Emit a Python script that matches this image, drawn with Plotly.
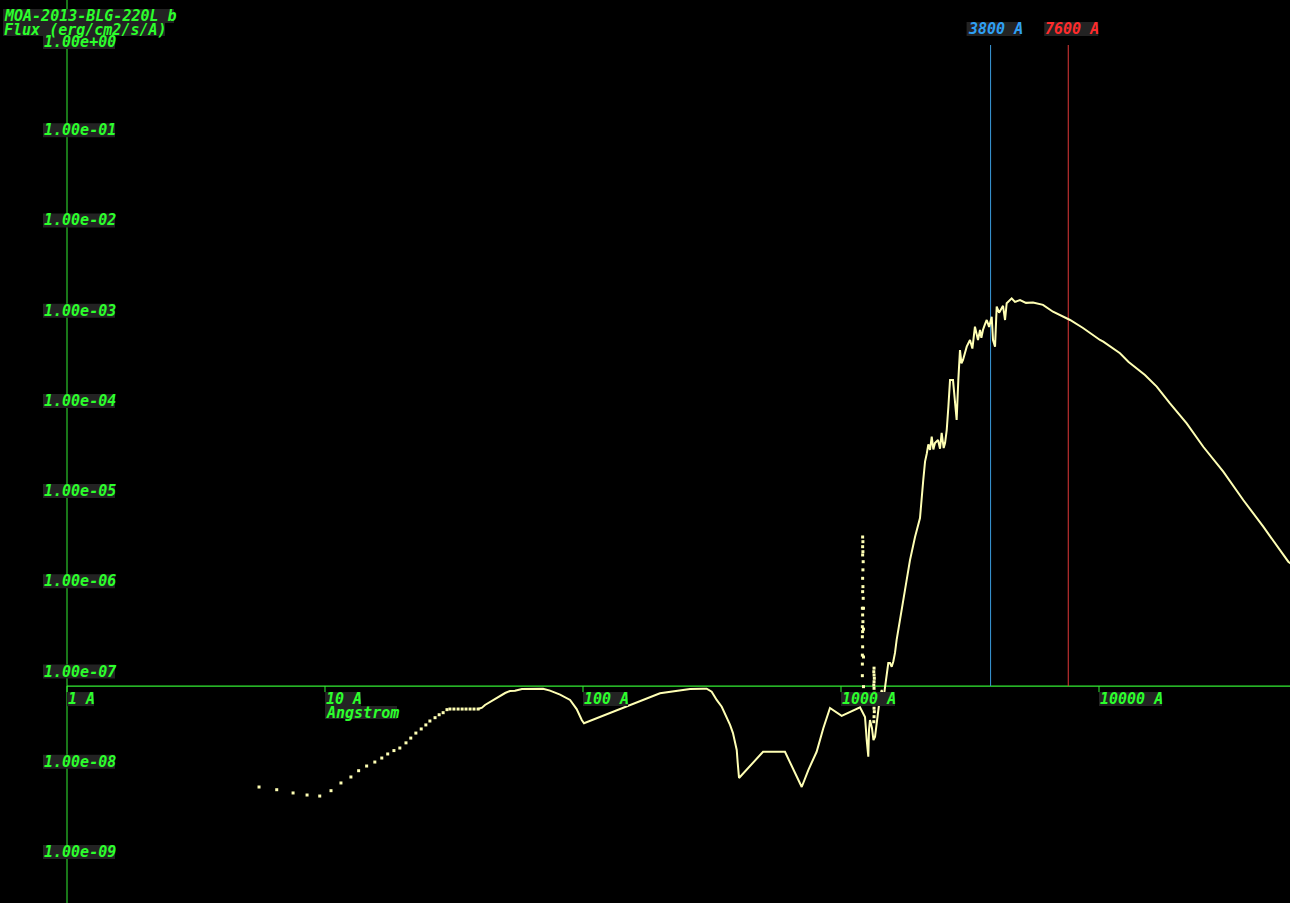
import math
import plotly.graph_objects as go

# ---------------- data ----------------
TITLE = "MOA-2013-BLG-220L b"
Y_TITLE = "Flux (erg/cm2/s/A)"
X_UNIT = "Angstrom"

X_TICKS = [1, 10, 100, 1000, 10000]
X_TICK_LABELS = ["1 A", "10 A", "100 A", "1000 A", "10000 A"]
Y_TICKS = [1e0, 1e-1, 1e-2, 1e-3, 1e-4, 1e-5, 1e-6, 1e-7, 1e-8, 1e-9]
Y_TICK_LABELS = ["1.00e+00", "1.00e-01", "1.00e-02", "1.00e-03", "1.00e-04",
                 "1.00e-05", "1.00e-06", "1.00e-07", "1.00e-08", "1.00e-09"]

BAND_WAVES = [3800, 7600]
BAND_LABELS = ["3800 A", "7600 A"]

AXIS_FLUX = 6.9e-8   # where the wavelength axis crosses

# sparse X-ray / EUV model points (drawn as dots)
WAVE_DOTS = [5.55, 6.50, 7.52, 8.52, 9.54, 10.55, 11.53, 12.6, 13.5, 14.5, 15.6,
             16.6, 17.5, 18.5, 19.5, 20.6, 21.5, 22.5, 23.6, 24.6, 25.5, 26.7,
             27.7, 28.7, 29.7, 30.5, 31.6, 32.8, 34.0, 35.2, 36.5, 37.8, 39.2]
FLUX_DOTS = [5.25e-9, 4.90e-9, 4.51e-9, 4.28e-9, 4.17e-9, 4.78e-9, 5.82e-9, 6.78e-9,
             7.96e-9, 8.97e-9, 9.93e-9, 1.10e-8, 1.22e-8, 1.33e-8, 1.42e-8, 1.62e-8,
             1.83e-8, 2.08e-8, 2.31e-8, 2.56e-8, 2.83e-8, 3.08e-8, 3.32e-8, 3.50e-8,
             3.78e-8, 3.84e-8, 3.84e-8, 3.84e-8, 3.84e-8, 3.84e-8, 3.84e-8, 3.84e-8,
             3.84e-8]

# continuous spectrum
WAVE_LINE = [39.2, 40.6, 41.7, 43.6, 45.6, 47.7, 49.9, 52.1, 54.5, 58.0, 62.3, 70.0,
             74.5, 77.9, 81.5, 89.1, 94.5, 98.9, 100.9, 198.8, 260, 291.8, 301.5,
             315.3, 329.7, 344.9, 360.6, 371.5, 381.3, 394.3, 397.8, 402.5, 498.7,
             606.6, 704.3, 747, 804.6, 853.9, 906.3, 1006, 1185,
             1239, 1258, 1276, 1284, 1295, 1318, 1336, 1355, 1375, 1391, 1416, 1438,
             1459, 1481, 1503, 1525, 1549, 1572, 1595, 1619, 1643, 1719, 1798, 1851,
             1936, 2024, 2084, 2117, 2150, 2180, 2213, 2247, 2280, 2313, 2377, 2420,
             2456, 2500, 2531, 2569, 2607,
             2646, 2717, 2767, 2807, 2849, 2892, 2930, 2971, 3071, 3162, 3230, 3305,
             3396, 3458, 3500, 3550, 3610, 3671, 3750, 3838, 3883, 3954, 4013, 4100,
             4246, 4323, 4387, 4587, 4724, 4941,
             5213, 5547, 6067, 6633, 7724, 8671, 10090, 10390, 12060, 12990, 15070,
             16740, 18840, 21870, 25360, 30320, 36230, 43320, 54170, 57540]
FLUX_LINE = [3.84e-8, 3.97e-8, 4.26e-8, 4.60e-8, 4.96e-8, 5.36e-8, 5.78e-8, 6.08e-8,
             6.14e-8, 6.41e-8, 6.45e-8, 6.45e-8, 6.14e-8, 5.83e-8, 5.54e-8, 4.84e-8,
             3.84e-8, 2.90e-8, 2.67e-8, 5.74e-8, 6.41e-8, 6.45e-8, 6.45e-8, 5.98e-8,
             4.84e-8, 4.07e-8, 3.16e-8, 2.56e-8, 2.08e-8, 1.35e-8, 9.69e-9, 6.61e-9,
             1.29e-8, 1.29e-8, 5.25e-9, 8.1e-9, 1.29e-8, 2.35e-8, 3.94e-8, 3.22e-8,
             4.02e-8,
             3.13e-8, 1.74e-8, 1.14e-8, 2.25e-8, 2.90e-8, 2.37e-8, 1.74e-8, 1.90e-8,
             2.90e-8, 3.47e-8, 5.22e-8, 6.24e-8, 4.84e-8, 6.79e-8, 9.64e-8, 1.24e-7,
             1.24e-7, 1.13e-7, 1.29e-7, 1.61e-7, 2.24e-7, 4.81e-7, 1.03e-6, 1.72e-6,
             3.10e-6, 5.03e-6, 1.33e-5, 2.12e-5, 2.60e-5, 3.30e-5, 2.86e-5, 4.01e-5,
             2.90e-5, 3.41e-5, 3.68e-5, 2.95e-5,
             4.41e-5, 3.00e-5, 3.41e-5, 4.75e-5, 8.62e-5,
             1.70e-4, 1.70e-4, 1.02e-4, 6.14e-5, 1.70e-4, 3.66e-4, 2.60e-4, 2.84e-4,
             3.99e-4, 4.73e-4, 3.80e-4, 6.64e-4,
             4.73e-4, 6.10e-4, 5.00e-4, 6.10e-4, 7.00e-4, 7.88e-4, 6.60e-4, 8.57e-4,
             4.73e-4, 3.99e-4, 1.11e-3, 9.50e-4,
             1.13e-3, 7.88e-4, 1.21e-3, 1.37e-3, 1.25e-3, 1.31e-3,
             1.22e-3, 1.23e-3, 1.16e-3, 9.73e-4, 7.88e-4, 6.43e-4, 4.73e-4, 4.53e-4,
             3.37e-4, 2.72e-4, 1.94e-4, 1.44e-4, 9.40e-5, 5.64e-5, 3.10e-5, 1.64e-5,
             7.97e-6, 4.03e-6, 1.65e-6, 1.44e-6]

# scattered points around Lyman alpha
WAVE_LYA = [1213, 1216, 1213, 1216, 1213, 1219, 1216, 1213, 1216, 1213, 1219, 1210,
            1222, 1213, 1216, 1210, 1213, 1222, 1210, 1213, 1210, 1222, 1210, 1210,
            1222,
            1343, 1340, 1343, 1346, 1343, 1340, 1343, 1346, 1343, 1340, 1343, 1346,
            1343, 1340]
FLUX_LYA = [3.10e-6, 2.75e-6, 2.42e-6, 2.13e-6, 1.96e-6, 1.65e-6, 1.34e-6, 1.08e-6,
            8.73e-7, 7.68e-7, 6.48e-7, 5.03e-7, 5.03e-7, 4.24e-7, 3.57e-7, 3.14e-7,
            2.77e-7, 2.95e-7, 2.43e-7, 1.88e-7, 1.52e-7, 1.45e-7, 1.21e-7, 9.0e-8,
            6.8e-8,
            1.09e-7, 9.96e-8, 9.16e-8, 8.42e-8, 7.71e-8, 7.09e-8, 6.52e-8, 5.74e-8,
            5.05e-8, 4.45e-8, 3.92e-8, 3.59e-8, 3.16e-8, 2.78e-8]

# ---------------- style ----------------
W, H = 1290, 903
X_RANGE = [-0.2597, 4.7403]
Y_RANGE = [-9.5655, 0.4434]
PX_X = W / (X_RANGE[1] - X_RANGE[0])
PX_Y = H / (Y_RANGE[1] - Y_RANGE[0])

GREEN = "#2cff2c"
AXIS_GREEN = "#33ee33"
BOX = "#232323"
CURVE = "#ffffb4"
BLUE_TXT = "#2ea0f5"
RED_TXT = "#ff2b2b"
BLUE_LINE = "#3a9bdc"
RED_LINE = "#e03838"
FONT_FAMILY = "DejaVu Sans Mono"
FONT_SIZE = 15
CHAR_W = 9
L10 = math.log10


def xmul(px):
    return 10 ** (px / PX_X)


def ymul(px):
    return 10 ** (px / PX_Y)


def font(color):
    return dict(family=FONT_FAMILY, size=FONT_SIZE, color=color,
                style="italic", weight="bold")


fig = go.Figure()

fig.add_trace(go.Scatter(x=WAVE_DOTS, y=FLUX_DOTS, mode="markers",
                         marker=dict(symbol="square", size=3, color=CURVE,
                                     line=dict(width=0)),
                         hoverinfo="skip", showlegend=False))
fig.add_trace(go.Scatter(x=WAVE_LYA, y=FLUX_LYA, mode="markers",
                         marker=dict(symbol="square", size=3, color=CURVE,
                                     line=dict(width=0)),
                         hoverinfo="skip", showlegend=False))
fig.add_trace(go.Scatter(x=WAVE_LINE, y=FLUX_LINE, mode="lines",
                         line=dict(color=CURVE, width=2),
                         hoverinfo="skip", showlegend=False))

shapes = []
annotations = []

# axes lines
shapes.append(dict(type="line", xref="x", yref="paper", x0=1, x1=1, y0=0, y1=1,
                   line=dict(color=AXIS_GREEN, width=1), layer="below"))
shapes.append(dict(type="line", xref="x", yref="y", x0=1, x1=10 ** X_RANGE[1],
                   y0=AXIS_FLUX, y1=AXIS_FLUX,
                   line=dict(color=AXIS_GREEN, width=1.3), layer="below"))

# band marker lines
for w, col in zip(BAND_WAVES, [BLUE_LINE, RED_LINE]):
    shapes.append(dict(type="line", xref="x", yref="y", x0=w, x1=w,
                       y0=AXIS_FLUX, y1=Y_TICKS[0] * ymul(-5),
                       line=dict(color=col, width=1), layer="below"))

# x ticks and labels
for v, lab in zip(X_TICKS, X_TICK_LABELS):
    shapes.append(dict(type="line", xref="x", yref="y", x0=v, x1=v,
                       y0=AXIS_FLUX, y1=AXIS_FLUX * ymul(-6),
                       line=dict(color=AXIS_GREEN, width=1)))
    shapes.append(dict(type="rect", xref="x", yref="y", x0=v,
                       x1=v * xmul(len(lab) * CHAR_W),
                       y0=AXIS_FLUX * ymul(-6), y1=AXIS_FLUX * ymul(-20),
                       fillcolor=BOX, line=dict(width=0)))
    annotations.append(dict(x=L10(v), y=L10(AXIS_FLUX * ymul(-13)), xref="x",
                            yref="y", text=lab, showarrow=False, xanchor="left",
                            yanchor="middle", borderpad=0, font=font(GREEN)))

# unit under the 10 A tick
shapes.append(dict(type="rect", xref="x", yref="y", x0=X_TICKS[1],
                   x1=X_TICKS[1] * xmul(len(X_UNIT) * CHAR_W),
                   y0=AXIS_FLUX * ymul(-20), y1=AXIS_FLUX * ymul(-33),
                   fillcolor=BOX, line=dict(width=0)))
annotations.append(dict(x=L10(X_TICKS[1]), y=L10(AXIS_FLUX * ymul(-26.5)), xref="x",
                        yref="y", text=X_UNIT, showarrow=False, xanchor="left",
                        yanchor="middle", borderpad=0, font=font(GREEN)))

# y tick labels
for i, (v, lab) in enumerate(zip(Y_TICKS, Y_TICK_LABELS)):
    x0 = X_TICKS[0] * xmul(-24)
    shift = -2 if i == 0 else 0   # top label sits a little lower
    shapes.append(dict(type="rect", xref="x", yref="y", x0=x0,
                       x1=x0 * xmul(len(lab) * CHAR_W),
                       y0=v * ymul(shift - 7), y1=v * ymul(shift + 7),
                       fillcolor=BOX, line=dict(width=0)))
    annotations.append(dict(x=L10(x0), y=L10(v * ymul(shift)), xref="x", yref="y",
                            text=lab, showarrow=False, xanchor="left",
                            yanchor="middle", borderpad=0, font=font(GREEN)))

# band labels at top
for w, lab, col in zip(BAND_WAVES, BAND_LABELS, [BLUE_TXT, RED_TXT]):
    x0 = w * xmul(-24)
    shapes.append(dict(type="rect", xref="x", yref="paper", x0=x0,
                       x1=x0 * xmul(len(lab) * CHAR_W),
                       y0=1 - 36 / H, y1=1 - 22 / H,
                       fillcolor=BOX, line=dict(width=0)))
    annotations.append(dict(x=L10(x0), y=1 - 29 / H, xref="x", yref="paper",
                            text=lab, showarrow=False, xanchor="left",
                            yanchor="middle", borderpad=0, font=font(col)))

# titles at top-left
for txt, top, bot in [(TITLE, 9, 23), (Y_TITLE, 23, 36)]:
    shapes.append(dict(type="rect", xref="paper", yref="paper",
                       x0=3 / W, x1=(3 + len(txt) * CHAR_W) / W,
                       y0=1 - bot / H, y1=1 - top / H,
                       fillcolor=BOX, line=dict(width=0)))
    annotations.append(dict(x=3 / W, y=1 - (top + bot) / 2 / H, xref="paper",
                            yref="paper", text=txt, showarrow=False,
                            xanchor="left", yanchor="middle", borderpad=0,
                            font=font(GREEN)))

fig.update_layout(
    width=W, height=H,
    margin=dict(l=0, r=0, t=0, b=0),
    paper_bgcolor="black", plot_bgcolor="black",
    xaxis=dict(type="log", range=X_RANGE, visible=False, showgrid=False,
               zeroline=False, fixedrange=True),
    yaxis=dict(type="log", range=Y_RANGE, visible=False, showgrid=False,
               zeroline=False, fixedrange=True),
    shapes=shapes, annotations=annotations,
    showlegend=False,
)

fig.write_html("out.html", config={"displayModeBar": False},
               post_script="document.body.style.margin='0';"
                           "document.body.style.background='black';")
